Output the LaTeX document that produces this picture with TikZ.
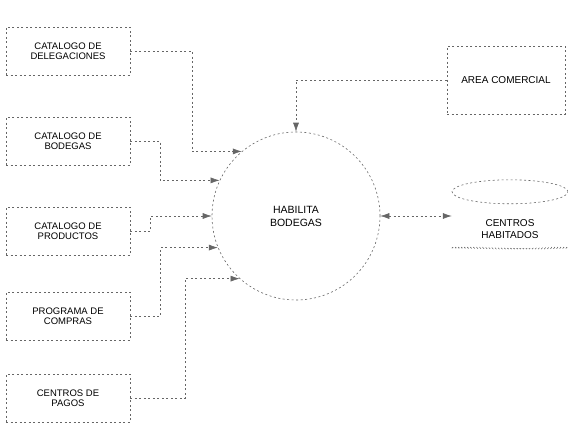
\documentclass[tikz,border=0pt]{standalone}
\usepackage{fontspec}
\setmainfont{Liberation Sans}
\usetikzlibrary{arrows.meta,positioning,decorations.pathmorphing}
\tikzset{
	faint/.style={draw=black!60,line width=.6pt,dash pattern=on 2pt off 2.5pt},
	box/.style={faint,rectangle,align=center,minimum width=124pt,minimum height=48pt,font=\fontsize{9.5}{10.5}\selectfont},
	proc/.style={faint,circle,align=center,minimum size=168pt,font=\fontsize{10.5}{13}\selectfont},
	store/.style={rectangle,align=center,minimum width=116pt,minimum height=38pt,font=\fontsize{10}{12}\selectfont},
	flow/.style={faint,-{Latex[length=9pt,width=6pt]}},
	bflow/.style={faint,{Latex[length=9pt,width=6pt]}-{Latex[length=9pt,width=6pt]}}
}

\begin{document}
\begin{tikzpicture}[x=1pt,y=-1pt]
	\useasboundingbox (0,0) rectangle (568,423);
	\node[box] (cdel) at (68,51) {CATALOGO DE\\DELEGACIONES};
	\node[box] (cbod) at (68,141) {CATALOGO DE\\BODEGAS};
	\node[box] (cprod) at (68,231) {CATALOGO DE\\PRODUCTOS};
	\node[box] (pcomp) at (68,316) {PROGRAMA DE\\COMPRAS};
	\node[box] (cpag) at (68,398) {CENTROS DE\\PAGOS};
	\node[proc] (hab) at (296,216) {HABILITA\\BODEGAS};
	\node[box,minimum width=118pt,minimum height=68pt,font=\fontsize{10}{12}\selectfont] (acom) at (506,80) {AREA COMERCIAL};
	\node[store] (chab) at (510,229) {CENTROS\\HABITADOS};
	\draw[faint] ([yshift=18pt]chab.north) ellipse (58pt and 12pt);
	\draw[faint,decorate,decoration={snake,segment length=3pt,amplitude=.8pt}] (chab.south west) -- (chab.south east);

	\draw[flow] (cdel.east) -- ++(62,0) |- (hab.130);
	\draw[flow] (cbod.east) -- ++(30,0) |- (hab.155);
	\draw[flow] (cprod.east) -- ++(20,0) |- (hab.180);
	\draw[flow] (pcomp.east) -- ++(30,0) |- (hab.202);
	\draw[flow] (cpag.east) -- ++(55,0) |- (hab.228);
	\draw[flow] (acom.west) -| (hab.north);
	\draw[bflow] (hab.east) -- (hab.east -| chab.west);
\end{tikzpicture}
\end{document}
